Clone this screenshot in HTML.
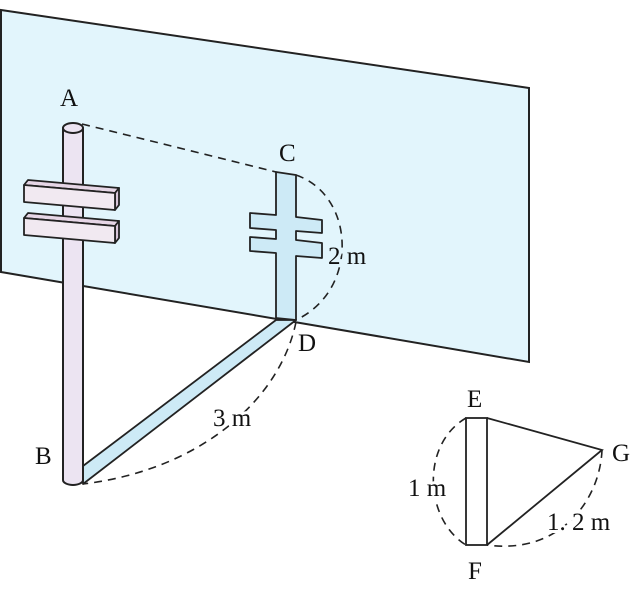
<!DOCTYPE html>
<html><head><meta charset="utf-8"><style>html,body{margin:0;padding:0;background:#fff}svg{display:block}text{font-family:"Liberation Serif",serif;font-size:25px;fill:#111}</style></head><body>
<svg width="637" height="589" viewBox="0 0 637 589" xmlns="http://www.w3.org/2000/svg">
<polygon points="1,10 529,88 529,362 1,272" fill="#e2f5fc" stroke="#222" stroke-width="2"/>
<!-- shadow -->
<polygon points="276,320 296,320 83,484 83,466" fill="#cdeaf6" stroke="#222" stroke-width="1.8" stroke-linejoin="round"/>
<polygon points="276,172 296,175 296,217 322,220 322,233 296,231 296,240 322,243 322,258 296,256 296,320 276,318 276,253 250,251 250,237 276,239 276,230 250,228 250,213 276,215" fill="#cdeaf6" stroke="#222" stroke-width="1.8" stroke-linejoin="round"/>
<!-- pole -->
<path d="M63,128 L63,480 A10,5 0 0 0 83,480 L83,128" fill="#ece4f2" stroke="#222" stroke-width="2"/>
<ellipse cx="73" cy="128" rx="10" ry="5" fill="#ece4f2" stroke="#222" stroke-width="2"/>
<!-- bars -->
<polygon points="24,185 28,180 119,188 115,193" fill="#e6d6e6" stroke="#222" stroke-width="1.8" stroke-linejoin="round"/>
<polygon points="115,193 119,188 119,205 115,210" fill="#d8c6da" stroke="#222" stroke-width="1.8" stroke-linejoin="round"/>
<polygon points="24,185 115,193 115,210 24,202" fill="#f1e9f1" stroke="#222" stroke-width="1.8" stroke-linejoin="round"/>
<polygon points="24,218 28,213 119,221 115,226" fill="#e6d6e6" stroke="#222" stroke-width="1.8" stroke-linejoin="round"/>
<polygon points="115,226 119,221 119,238 115,243" fill="#d8c6da" stroke="#222" stroke-width="1.8" stroke-linejoin="round"/>
<polygon points="24,218 115,226 115,243 24,235" fill="#f1e9f1" stroke="#222" stroke-width="1.8" stroke-linejoin="round"/>
<!-- dashed -->
<g fill="none" stroke="#222" stroke-width="1.6" stroke-dasharray="8,6">
<path d="M82,124 Q180,148 276,172"/>
<path d="M296,175 C355,195 360,290 296,320"/>
<path d="M296,322 C280,400 200,470 83,484"/>
<path d="M466,418 C420,445 425,520 466,545"/>
<path d="M602,450 C600,500 560,555 487,545"/>
</g>
<!-- triangle -->
<rect x="466" y="418" width="21" height="127" fill="#fff" stroke="#222" stroke-width="1.8"/>
<polyline points="487,418 602,450 487,545" fill="none" stroke="#222" stroke-width="1.8"/>
<text x="60" y="106">A</text>
<text x="279" y="161">C</text>
<text x="328" y="264" stroke="#e2f5fc" stroke-width="6" paint-order="stroke">2 m</text>
<text x="298" y="351">D</text>
<text x="213" y="426" stroke="#fff" stroke-width="6" paint-order="stroke">3 m</text>
<text x="35" y="464">B</text>
<text x="467" y="407">E</text>
<text x="612" y="461">G</text>
<text x="408" y="496" stroke="#fff" stroke-width="6" paint-order="stroke">1 m</text>
<text x="547" y="530" stroke="#fff" stroke-width="6" paint-order="stroke">1. 2 m</text>
<text x="468" y="579">F</text>
</svg>
</body></html>
